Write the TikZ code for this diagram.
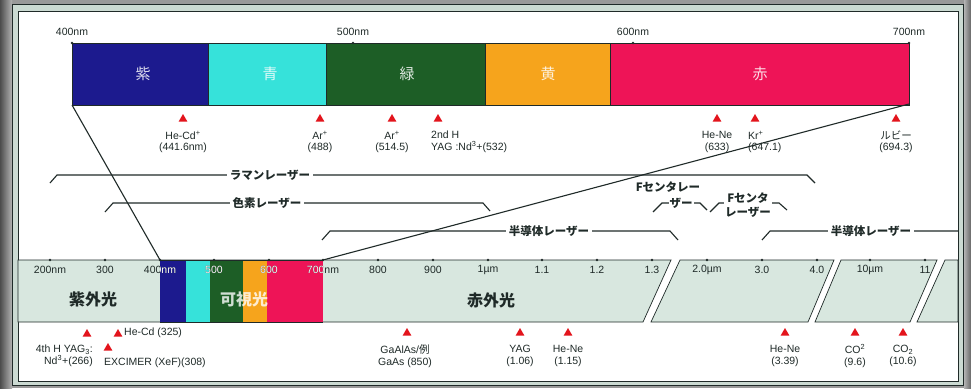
\documentclass[tikz,border=0pt]{standalone}
\usepackage{fontspec}
\setmainfont{Liberation Sans}
\newfontfamily\jp{Noto Sans CJK JP}
\usetikzlibrary{shapes.geometric}
\definecolor{cviolet}{HTML}{1C1A8E}
\definecolor{ccyan}{HTML}{36E2DA}
\definecolor{cgreen}{HTML}{1D5E26}
\definecolor{corange}{HTML}{F6A41C}
\definecolor{cred}{HTML}{EE1457}
\definecolor{cmint}{HTML}{D8E7DF}
\definecolor{cframe}{HTML}{CBDAD2}
\definecolor{ink}{HTML}{1F2A28}
\definecolor{mk}{HTML}{E3141C}
\begin{document}
\begin{tikzpicture}[x=1pt,y=-1pt,
  lbl/.style={font=\fontsize{10.5}{11.5}\selectfont, text=ink, inner sep=0pt, align=center},
  tick/.style={font=\fontsize{10.5}{11.5}\selectfont, text=ink, inner sep=0pt},
  jpl/.style={font=\jp\bfseries\fontsize{11.5}{12.5}\selectfont, text=ink, fill=white, inner sep=2.5pt, align=center},
  big/.style={font=\jp\bfseries\fontsize{16}{17}\selectfont, text=ink, inner sep=0pt},
  barword/.style={font=\jp\fontsize{15}{16}\selectfont, text=white, text opacity=0.85, inner sep=0pt},
  tri/.style={regular polygon, regular polygon sides=3, fill=mk, minimum size=10pt, inner sep=0pt},
  brk/.style={draw=ink, line width=1.1pt},
  seg/.style={draw=ink, line width=0.7pt},
  conn/.style={draw=ink, line width=1.1pt}]
\useasboundingbox (0,0) rectangle (971,388);
% background and frame
\fill[black!40] (0,0) rectangle (971,388);
\shade[left color=black!70, right color=black!30] (0,0) rectangle (12,388);
\shade[left color=black!30, right color=black!60] (964,0) rectangle (971,388);
\filldraw[fill=cframe, draw=ink, line width=1.8pt] (12.5,4.5) rectangle (963.5,385.5);
\filldraw[fill=white, draw=ink, line width=0.8pt] (18,11) rectangle (958,381);

% top spectrum bar
\fill[cviolet] (72,43) rectangle (208,105);
\fill[ccyan] (208,43) rectangle (326,105);
\fill[cgreen] (326,43) rectangle (485,105);
\fill[corange] (485,43) rectangle (610,105);
\fill[cred] (610,43) rectangle (909,105);
\draw[seg] (72,43) rectangle (909,105);
\foreach \x in {208,326,485,610} \draw[ink, line width=0.5pt] (\x,43) -- (\x,105);
\foreach \x/\t in {72/400nm, 353/500nm, 633/600nm, 909/700nm} {
  \fill[ink] (\x,43) circle (1.4);
  \node[tick] (tt\x) at (\x,32) {\t};
}
\node[barword] (w1) at (143,74) {紫};
\node[barword] (w2) at (270,74) {青};
\node[barword] (w3) at (407,74) {緑};
\node[barword] (w4) at (548,74) {黄};
\node[barword] (w5) at (760,74) {赤};

% top markers
\node[tri] (m1) at (183,119) {};
\node[lbl] (l1) at (183,142) {He-Cd\textsuperscript{+}\\(441.6nm)};
\node[tri] (m2) at (320,119) {};
\node[lbl] (l2) at (320,142) {Ar\textsuperscript{+}\\(488)};
\node[tri] (m3) at (392,119) {};
\node[lbl] (l3) at (392,142) {Ar\textsuperscript{+}\\(514.5)};
\node[tri] (m4) at (438,119) {};
\node[lbl, align=left, anchor=west] (l4) at (431,142) {2nd H\\YAG :Nd\textsuperscript{3}+(532)};
\node[tri] (m5) at (717,119) {};
\node[lbl] (l5) at (717,142) {He-Ne\\(633)};
\node[tri] (m6) at (755,119) {};
\node[lbl, align=left, anchor=west] (l6) at (748,142) {Kr\textsuperscript{+}\\(647.1)};
\node[tri] (m7) at (896,119) {};
\node[lbl] (l7) at (896,142) {{\jp ルビー}\\(694.3)};

% connectors from the top bar to the strip
\coordinate (tl) at (72,105);
\coordinate (tr) at (909,104);
\coordinate (sl) at (160,260);
\coordinate (sr) at (323,260);
\draw[conn] (tl) -- (sl);
\draw[conn] (tr) -- (sr);

% brackets
\draw[brk] (50,183) -- (57,175) -- (807,175) -- (815,183);
\node[jpl] (b1) at (270,175) {ラマンレーザー};
\draw[brk] (105,212) -- (113,203) -- (483,203) -- (490,211);
\node[jpl] (b2) at (267,203) {色素レーザー};
\draw[brk] (322,240) -- (330,231) -- (670,231) -- (678,240);
\node[jpl] (b3) at (549,231) {半導体レーザー};
\draw[brk] (653,212) -- (662,203) -- (700,203) -- (707,210);
\node[jpl, inner sep=1pt] (b4) at (681,203) {ザー};
\node[jpl, fill=none, inner sep=0pt] (b4a) at (668,187) {Fセンタレー};
\draw[brk] (710,212) -- (719,203) -- (779,203) -- (787,210);
\node[jpl, inner sep=1pt, font=\jp\bfseries\fontsize{11.5}{14}\selectfont] (b5) at (748,205) {Fセンタ\\レーザー};
\draw[brk] (762,240) -- (770,231) -- (958,231);
\node[jpl] (b6) at (871,231) {半導体レーザー};

% lower strip
\filldraw[fill=cmint, seg] (18,260) -- (671,260) -- (643,322) -- (18,322) -- cycle;
\filldraw[fill=cmint, seg] (680,260) -- (834,260) -- (808,322) -- (651,322) -- cycle;
\filldraw[fill=cmint, seg] (841,260) -- (937,260) -- (910,322) -- (815,322) -- cycle;
\filldraw[fill=cmint, seg] (945,260) -- (958,260) -- (958,322) -- (917,322) -- cycle;
\fill[cviolet] (160,260) rectangle (186,322);
\fill[ccyan] (186,260) rectangle (210,322);
\fill[cgreen] (210,260) rectangle (243,322);
\fill[corange] (243,260) rectangle (267,322);
\fill[cred] (267,260) rectangle (323,322);
\draw[seg] (160,260) -- (323,260) (160,322) -- (323,322);

\foreach \x/\t in {50/200nm, 105/300, 160/400nm, 214/500, 269/600, 323/700nm, 378/800, 433/900, 488/1µm, 542/1.1, 597/1.2, 652/1.3, 707/2.0µm, 762/3.0, 817/4.0, 870/10µm, 925/11} {
  \fill[ink] (\x,260) circle (1.4);
  \node[tick] (st\x) at (\x,270) {\t};
}
\begin{scope}
  \clip (160,260) rectangle (323,322);
  \foreach \x/\t in {160/400nm, 214/500, 269/600, 323/700nm} {
    \node[tick, text=white] (sw\x) at (\x,270) {\t};
  }
\end{scope}
\node[big] (u1) at (93,299) {紫外光};
\node[big, text=white, text opacity=0.8] (u2) at (244,299) {可視光};
\node[big] (u3) at (491,300) {赤外光};

% bottom markers
\node[tri] (n1) at (87,334) {};
\node[lbl, align=right, anchor=east] (k1) at (93,356) {4th H YAG\textsubscript{3}:\\Nd\textsuperscript{3}+(266)};
\node[tri] (n2) at (118,334) {};
\node[lbl, anchor=west] (k2) at (124,333) {He-Cd (325)};
\node[tri] (n3) at (108,348) {};
\node[lbl, anchor=west] (k3) at (104,363) {EXCIMER (XeF)(308)};
\node[tri] (n4) at (407,333) {};
\node[lbl] (k4) at (405,356) {GaAlAs/{\jp 例}\\GaAs (850)};
\node[tri] (n5) at (520,333) {};
\node[lbl] (k5) at (520,356) {YAG\\(1.06)};
\node[tri] (n6) at (568,333) {};
\node[lbl] (k6) at (568,356) {He-Ne\\(1.15)};
\node[tri] (n7) at (785,333) {};
\node[lbl] (k7) at (785,356) {He-Ne\\(3.39)};
\node[tri] (n8) at (855,333) {};
\node[lbl] (k8) at (855,356) {CO\textsuperscript{2}\\(9.6)};
\node[tri] (n9) at (903,333) {};
\node[lbl] (k9) at (903,356) {CO\textsubscript{2}\\(10.6)};
\end{tikzpicture}
\end{document}
